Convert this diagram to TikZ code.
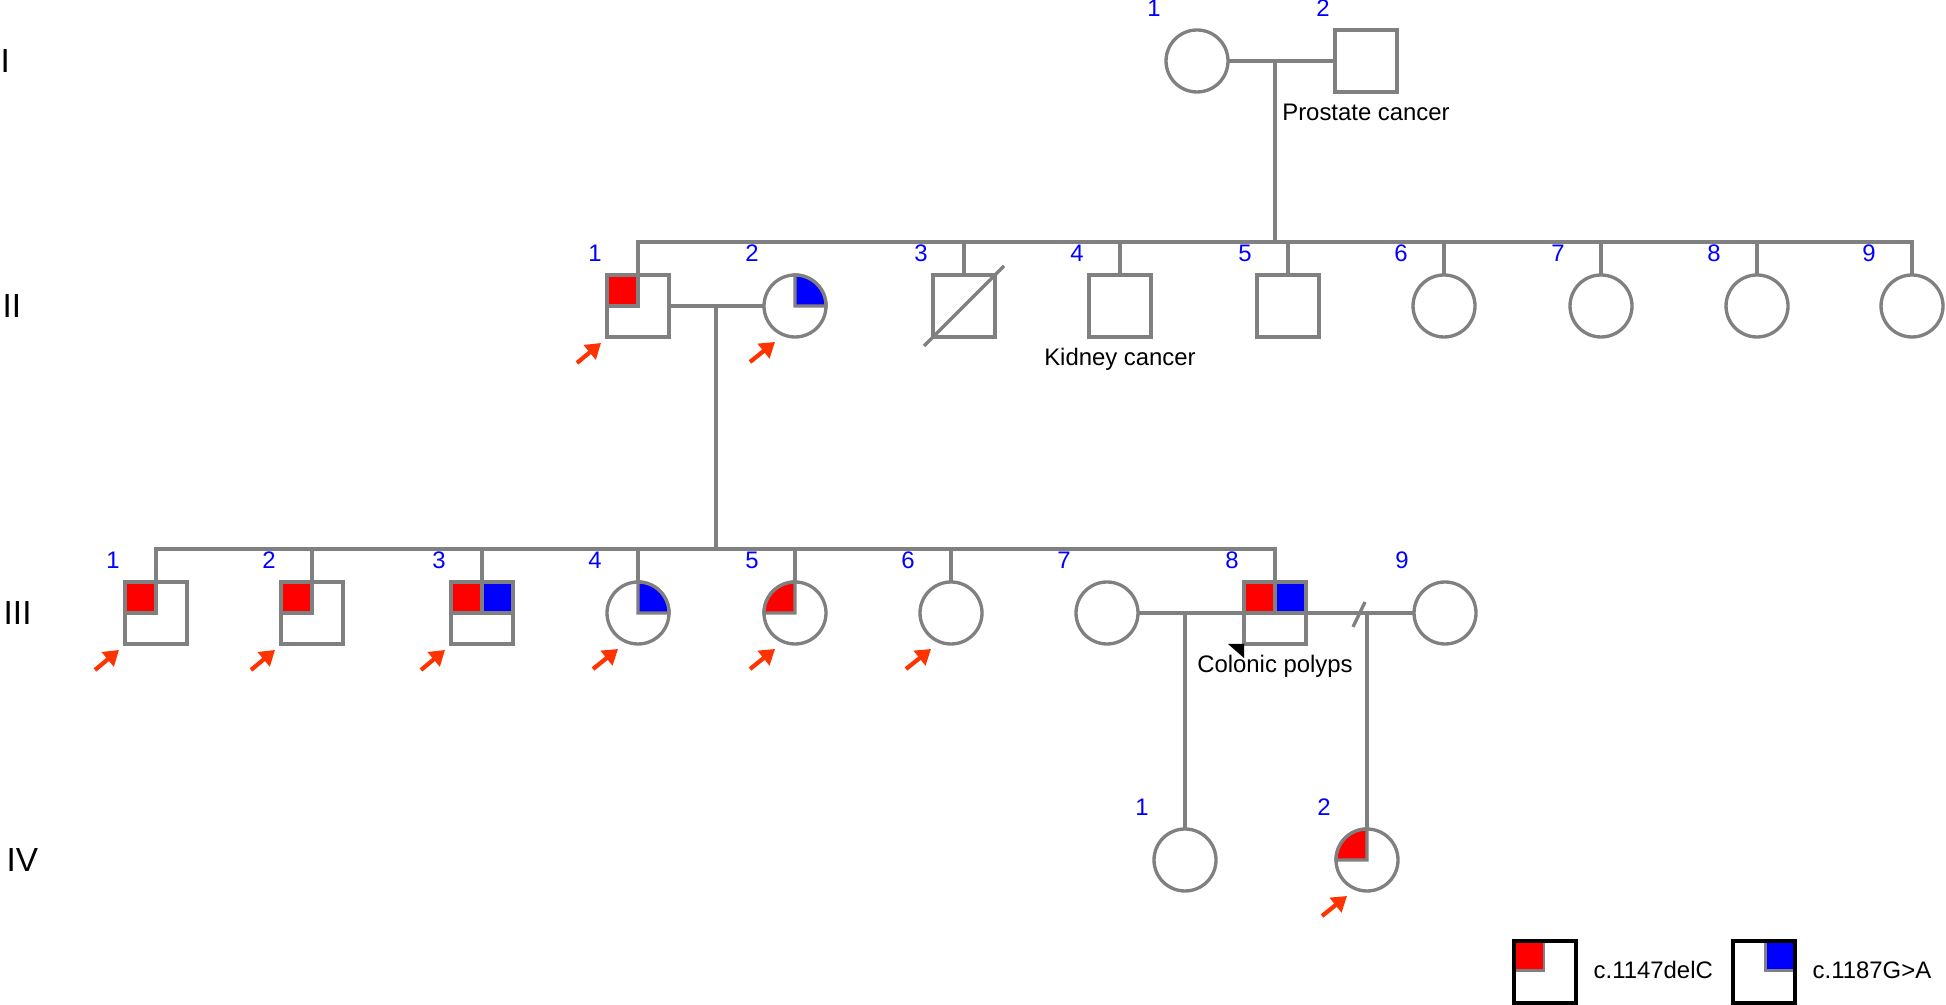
\documentclass[tikz,border=0pt]{standalone}
\usepackage{fontspec}
\setmainfont{Liberation Sans}
\usetikzlibrary{calc,arrows.meta}
\definecolor{pedgray}{RGB}{128,128,128}
\definecolor{arrowred}{RGB}{255,51,0}
\tikzset{
  male/.style={rectangle, draw=pedgray, line width=0.95pt, fill=white, minimum size=0.62cm, inner sep=0pt, outer sep=0pt},
  female/.style={circle, draw=pedgray, line width=0.95pt, fill=white, minimum size=0.62cm, inner sep=0pt, outer sep=0pt},
  pedline/.style={draw=pedgray, line width=0.95pt},
  qred/.style={fill=red, draw=pedgray, line width=0.95pt},
  qblue/.style={fill=blue, draw=pedgray, line width=0.95pt},
  proband/.style={arrowred, line width=1.2pt, -{Triangle[length=4.2pt,width=5.2pt]}},
  num/.style={text=blue, font=\fontsize{6.8}{8}\selectfont, inner sep=0pt, anchor=base},
  note/.style={font=\fontsize{6.8}{8}\selectfont, inner sep=0pt, anchor=base},
  gen/.style={font=\fontsize{9.5}{11}\selectfont, inner sep=0pt, anchor=west},
  legendbox/.style={rectangle, draw=black, line width=1.1pt, minimum size=0.62cm, inner sep=0pt, outer sep=0pt}
}
\begin{document}
\begin{tikzpicture}
    \useasboundingbox (0,0) rectangle (19.46,10.05);
    % generations
    \node[gen] (gI) at (0.00,9.44) {I};
    \node[gen] (gII) at (0.02,6.99) {II};
    \node[gen] (gIII) at (0.03,3.92) {III};
    \node[gen] (gIV) at (0.06,1.45) {IV};

    % generation I
    \node[female] (I1) at (11.97,9.44) {};
    \node[male] (I2) at (13.66,9.44) {};

    % generation II
    \node[male] (II1) at (6.38,6.99) {};
    \node[female] (II2) at (7.95,6.99) {};
    \node[male] (II3) at (9.64,6.99) {};
    \node[male] (II4) at (11.20,6.99) {};
    \node[male] (II5) at (12.88,6.99) {};
    \foreach \i/\x in {6/14.44,7/16.01,8/17.57,9/19.12}
        \node[female] (II\i) at (\x,6.99) {};

    % generation III
    \foreach \i/\x in {1/1.56,2/3.12,3/4.82}
        \node[male] (III\i) at (\x,3.92) {};
    \foreach \i/\x in {4/6.38,5/7.95,6/9.51,7/11.07}
        \node[female] (III\i) at (\x,3.92) {};
    \node[male] (III8) at (12.75,3.92) {};
    \node[female] (III9) at (14.45,3.92) {};

    % generation IV
    \node[female] (IV1) at (11.85,1.45) {};
    \node[female] (IV2) at (13.67,1.45) {};

    % matings and sibships
    \coordinate (mI) at (12.75,9.44);
    \coordinate (sII) at (12.75,7.63);
    \draw[pedline] (I1) -- (I2);
    \draw[pedline] (mI) -- (sII);
    \draw[pedline] (II1.north) |- (sII) -| (II9.north);
    \foreach \i in {3,...,8}
        \draw[pedline] (II\i.north) -- (II\i.north |- sII);

    \coordinate (mII) at (7.16,6.99);
    \coordinate (sIII) at (7.16,4.56);
    \draw[pedline] (II1) -- (II2);
    \draw[pedline] (mII) -- (sIII);
    \draw[pedline] (III1.north) |- (sIII) -| (III8.north);
    \foreach \i in {2,...,6}
        \draw[pedline] (III\i.north) -- (III\i.north |- sIII);

    \coordinate (mIIIa) at (11.85,3.92);
    \coordinate (mIIIb) at (13.67,3.92);
    \draw[pedline] (III7) -- (III8);
    \draw[pedline] (mIIIa) -- (IV1);
    \draw[pedline] (III8) -- (III9);
    \draw[pedline] (mIIIb) -- (IV2);
    \draw[pedline] (13.53,3.78) -- (13.65,4.03);

    % deceased
    \draw[pedline] ($(II3)+(-0.40,-0.40)$) -- ($(II3)+(0.40,0.40)$);

    % carriers
    \foreach \p in {II1,III1,III2,III3,III8}
        \filldraw[qred] (\p.center) rectangle (\p.north west);
    \foreach \p in {III3,III8}
        \filldraw[qblue] (\p.center) rectangle (\p.north east);
    \foreach \p in {III5,IV2}
        \filldraw[qred] (\p.center) -- (\p.north) arc[start angle=90,end angle=180,radius=0.31] -- cycle;
    \foreach \p in {II2,III4}
        \filldraw[qblue] (\p.center) -- (\p.north) arc[start angle=90,end angle=0,radius=0.31] -- cycle;

    % tested
    \foreach \p in {II1,III1,III2,III3}
        \draw[proband] ($(\p)+(-0.61,-0.57)$) -- ($(\p)+(-0.37,-0.37)$);
    \foreach \p in {II2,III4,III5,III6,IV2}
        \draw[proband] ($(\p)+(-0.45,-0.56)$) -- ($(\p)+(-0.20,-0.36)$);

    % numbers
    \foreach \p/\n in {I1/1,I2/2,II1/1,II2/2,II3/3,II4/4,II5/5,II6/6,II7/7,II8/8,II9/9,
        III1/1,III2/2,III3/3,III4/4,III5/5,III6/6,III7/7,III8/8,III9/9,IV1/1,IV2/2}
        \node[num] (n\p) at ($(\p)+(-0.43,0.44)$) {\n};

    % phenotypes
    \node[note] (tI2) at ($(I2)+(0,-0.60)$) {Prostate cancer};
    \node[note] (tII4) at ($(II4)+(0,-0.60)$) {Kidney cancer};
    \node[note] (tIII8) at ($(III8)+(0,-0.60)$) {Colonic polyps};
    \fill (III8.south west) -- ++(-0.16,0) -- ++(0.16,-0.14) -- cycle;

    % legend
    \coordinate (Lc1) at (15.45,0.33);
    \coordinate (Lc2) at (17.64,0.33);
    \fill[pedgray] (Lc1) rectangle ++(-0.31,0.31);
    \fill[red] ($(Lc1)+(-0.025,0.025)$) rectangle ++(-0.285,0.285);
    \fill[pedgray] (Lc2) rectangle ++(0.31,0.31);
    \fill[blue] ($(Lc2)+(0.025,0.025)$) rectangle ++(0.285,0.285);
    \node[legendbox] (L1) at (Lc1) {};
    \node[legendbox] (L2) at (Lc2) {};
    \node[note, anchor=west] (tL1) at (15.93,0.35) {c.1147delC};
    \node[note, anchor=west] (tL2) at (18.12,0.35) {c.1187G>A};
\end{tikzpicture}
\end{document}
